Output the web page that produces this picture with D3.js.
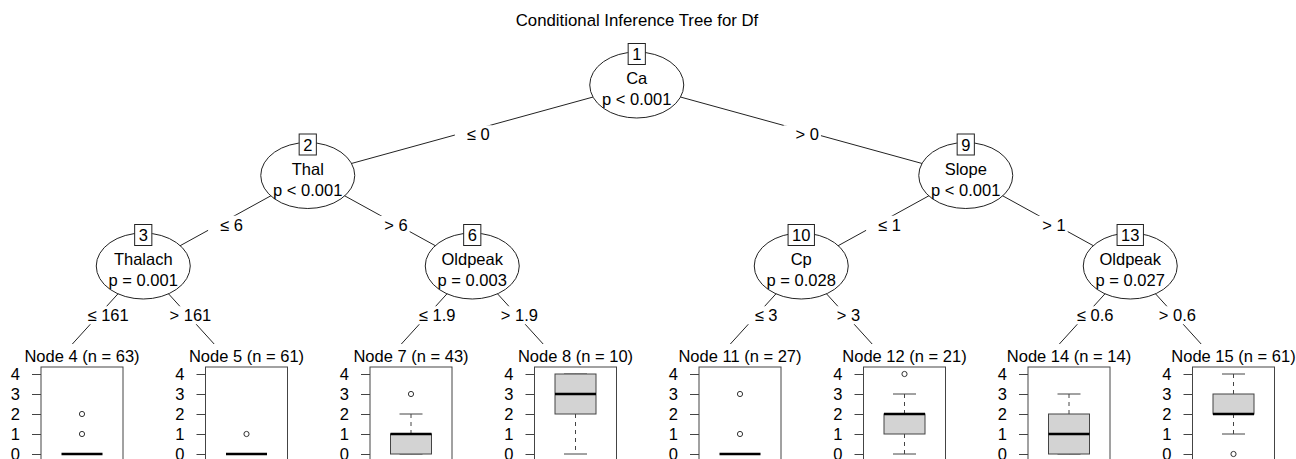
<!DOCTYPE html>
<html>
<head>
<meta charset="utf-8">
<script src="https://cdn.jsdelivr.net/npm/d3@7"></script>
<style>
  body { margin: 0; background: #fff; }
  svg { font-family: "Liberation Sans", Arial, sans-serif; }
</style>
</head>
<body>
<div id="chart"></div>
<script>
var width = 1296, height = 459;
var fs = 16.5;

// inner (split) nodes
var innerIds = [1, 2, 3, 6, 9, 10, 13];
var innerVars = ["Ca", "Thal", "Thalach", "Oldpeak", "Slope", "Cp", "Oldpeak"];
var innerP = ["p < 0.001", "p < 0.001", "p = 0.001", "p = 0.003", "p < 0.001", "p = 0.028", "p = 0.027"];
var innerKids = [[2, 9], [3, 6], [4, 5], [7, 8], [10, 13], [11, 12], [14, 15]];
var splitLeft = ["≤ 0", "≤ 6", "≤ 161", "≤ 1.9", "≤ 1", "≤ 3", "≤ 0.6"];
var splitRight = ["> 0", "> 6", "> 161", "> 1.9", "> 1", "> 3", "> 0.6"];

// terminal nodes (boxplot stats)
var leafIds = [4, 5, 7, 8, 11, 12, 14, 15];
var leafN = [63, 61, 43, 10, 27, 21, 14, 61];
var leafLo = [0, 0, 0, 0, 0, 0, 0, 1];
var leafQ1 = [0, 0, 0, 2, 0, 1, 0, 2];
var leafMed = [0, 0, 1, 3, 0, 2, 1, 2];
var leafQ3 = [0, 0, 1, 4, 0, 2, 2, 3];
var leafHi = [0, 0, 2, 4, 0, 3, 3, 4];
var leafOut = [[1, 2], [1], [3], [], [1, 3], [4], [], [0]];
var yTicks = [0, 1, 2, 3, 4];

var svg = d3.select("#chart")
  .append("svg")
  .attr("width", width)
  .attr("height", height);

svg.append("text")
  .attr("x", 637)
  .attr("y", 26)
  .attr("text-anchor", "middle")
  .attr("font-size", 16.8)
  .text("Conditional Inference Tree for Df");

// tree layout
var root = d3.hierarchy(1, function(id) {
  var i = innerIds.indexOf(id);
  return i < 0 ? null : innerKids[i];
});

var xLeaf = d3.scalePoint()
  .domain(leafIds)
  .range([61, 1212.5]);

var yDepth = d3.scaleLinear()
  .domain([0, 3])
  .range([85, 356.5]);

root.eachAfter(function(n) {
  n.x = n.children ? d3.mean(n.children, c => c.x) : xLeaf(n.data);
  n.y = yDepth(n.depth);
});

// edges
var links = root.links();

svg.selectAll("line.edge")
  .data(links)
  .enter()
  .append("line")
  .attr("class", "edge")
  .attr("x1", d => d.source.x)
  .attr("y1", d => d.source.y)
  .attr("x2", d => d.target.x)
  .attr("y2", d => d.target.y)
  .attr("stroke", "#222")
  .attr("stroke-width", 1);

links.forEach(function(d) {
  var pi = innerIds.indexOf(d.source.data);
  var side = innerKids[pi].indexOf(d.target.data);
  var label = side === 0 ? splitLeft[pi] : splitRight[pi];
  var mx = (d.source.x + d.target.x) / 2;
  var my = (d.source.y + d.target.y) / 2;
  var g = svg.append("g");
  var t = g.append("text")
    .attr("x", mx + 6)
    .attr("y", my + 10)
    .attr("text-anchor", "middle")
    .attr("font-size", fs)
    .text(label);
  var bb = t.node().getBBox();
  g.insert("rect", "text")
    .attr("x", bb.x - 12)
    .attr("y", bb.y)
    .attr("width", bb.width + 14)
    .attr("height", bb.height)
    .attr("fill", "#fff");
});

// inner nodes
var inner = root.descendants().filter(d => d.children);

inner.forEach(function(d) {
  var i = innerIds.indexOf(d.data);
  var g = svg.append("g").attr("transform", `translate(${d.x},${d.y})`);
  g.append("ellipse")
    .attr("rx", 47)
    .attr("ry", 33)
    .attr("fill", "#fff")
    .attr("stroke", "#222");
  g.append("text")
    .attr("y", -1)
    .attr("text-anchor", "middle")
    .attr("font-size", fs)
    .text(innerVars[i]);
  g.append("text")
    .attr("y", 20)
    .attr("text-anchor", "middle")
    .attr("font-size", fs)
    .text(innerP[i]);
  var idt = g.append("text")
    .attr("y", -25)
    .attr("text-anchor", "middle")
    .attr("font-size", fs)
    .text(d.data);
  var w = idt.node().getBBox().width + 8;
  g.insert("rect", "text:last-of-type")
    .attr("x", -w / 2)
    .attr("y", -41.5)
    .attr("width", w)
    .attr("height", 21)
    .attr("fill", "#fff")
    .attr("stroke", "#222");
});

// terminal nodes
var yBox = d3.scaleLinear()
  .domain([0, 4])
  .range([454, 374]);

var yAxis = d3.axisLeft(yBox)
  .tickValues(yTicks)
  .tickFormat(d3.format("d"))
  .tickSize(9)
  .tickPadding(12);

leafIds.forEach(function(id, i) {
  var lx = xLeaf(id);
  var cx = lx + 21;
  var g = svg.append("g");

  var title = g.append("text")
    .attr("x", cx)
    .attr("y", 362)
    .attr("text-anchor", "middle")
    .attr("font-size", fs)
    .text(`Node ${id} (n = ${leafN[i]})`);
  var bb = title.node().getBBox();
  g.insert("rect", "text")
    .attr("x", bb.x - 2)
    .attr("y", bb.y - 3)
    .attr("width", bb.width + 4)
    .attr("height", bb.height + 3)
    .attr("fill", "#fff");

  g.append("rect")
    .attr("x", lx - 20)
    .attr("y", yBox(4.35))
    .attr("width", 82)
    .attr("height", yBox(-0.35) - yBox(4.35))
    .attr("fill", "#fff")
    .attr("stroke", "#444");

  var ax = g.append("g")
    .attr("transform", `translate(${lx - 20},0)`)
    .call(yAxis);
  ax.select(".domain").remove();
  ax.selectAll("line").attr("stroke", "#444");
  ax.selectAll("text")
    .attr("font-size", fs)
    .attr("font-family", "'Liberation Sans', Arial, sans-serif")
    .attr("fill", "#000");

  // whiskers
  g.append("line")
    .attr("x1", cx).attr("x2", cx)
    .attr("y1", yBox(leafQ3[i])).attr("y2", yBox(leafHi[i]))
    .attr("stroke", "#444")
    .attr("stroke-dasharray", "4,4");
  g.append("line")
    .attr("x1", cx).attr("x2", cx)
    .attr("y1", yBox(leafQ1[i])).attr("y2", yBox(leafLo[i]))
    .attr("stroke", "#444")
    .attr("stroke-dasharray", "4,4");
  [leafLo[i], leafHi[i]].forEach(function(v) {
    g.append("line")
      .attr("x1", cx - 11.5).attr("x2", cx + 11.5)
      .attr("y1", yBox(v)).attr("y2", yBox(v))
      .attr("stroke", "#444");
  });

  // box
  g.append("rect")
    .attr("x", cx - 20.5)
    .attr("y", yBox(leafQ3[i]))
    .attr("width", 41)
    .attr("height", yBox(leafQ1[i]) - yBox(leafQ3[i]))
    .attr("fill", "#d3d3d3")
    .attr("stroke", "#444");
  g.append("line")
    .attr("x1", cx - 20.5).attr("x2", cx + 20.5)
    .attr("y1", yBox(leafMed[i])).attr("y2", yBox(leafMed[i]))
    .attr("stroke", "#000")
    .attr("stroke-width", 2.5);

  // outliers
  g.selectAll("circle")
    .data(leafOut[i])
    .enter()
    .append("circle")
    .attr("cx", cx)
    .attr("cy", d => yBox(d))
    .attr("r", 2.6)
    .attr("fill", "#fff")
    .attr("stroke", "#333");
});
</script>
</body>
</html>
